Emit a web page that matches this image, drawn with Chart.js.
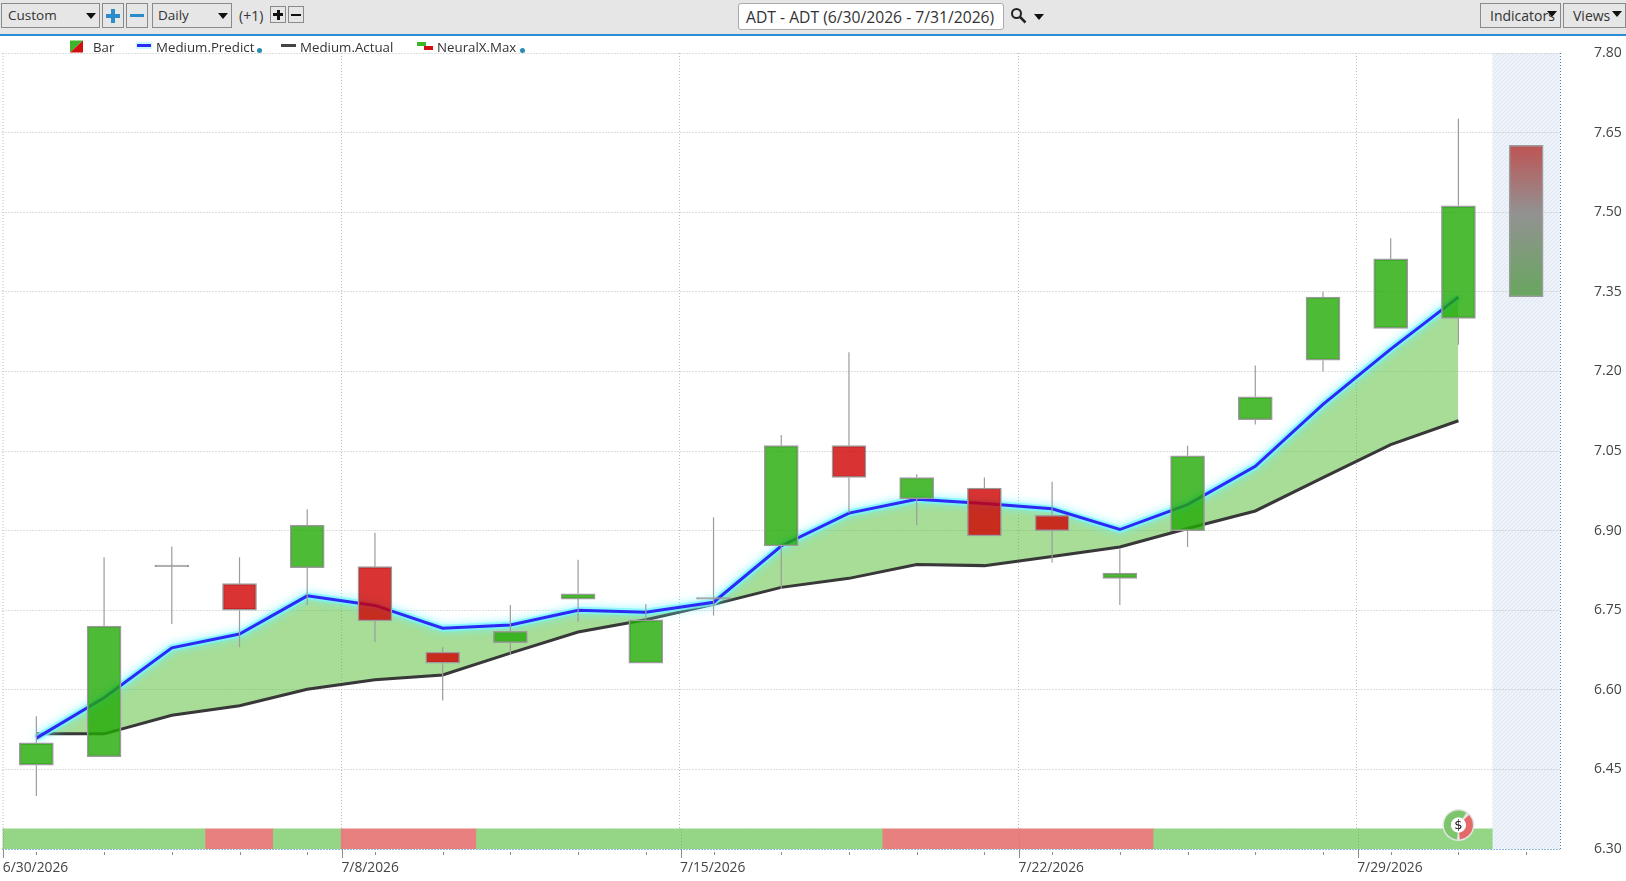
<!DOCTYPE html>
<html>
<head>
<meta charset="utf-8">
<title>ADT</title>
<script src="https://cdn.jsdelivr.net/npm/chart.js@4"></script>
<style>
  html, body { margin: 0; padding: 0; background: #fff; }
  body { width: 1626px; height: 881px; position: relative; overflow: hidden;
         font-family: "Open Sans", "Noto Sans", sans-serif; color: #333; }
  #priceChart { position: absolute; left: 0; top: 0; }
  #toolbar { position: absolute; left: 0; top: 0; width: 1626px; height: 34px; background: #e6e6e6;
             border-bottom: 2px solid #2a8dd8; box-sizing: content-box; }
  .ctl { position: absolute; box-sizing: border-box; border: 1px solid #8a8a8a; height: 25px; top: 3px;
         font-size: 13.5px; line-height: 23px; padding-left: 7px; white-space: nowrap; }
  .arrow { position: absolute; width: 0; height: 0; border-left: 5px solid transparent;
           border-right: 5px solid transparent; border-top: 6px solid #111; }
  .txt { position: absolute; font-size: 14px; white-space: nowrap; }
  #legend .txt { top: 37px; line-height: 20px; font-size: 13.3px; }
  .dot { position: absolute; width: 5px; height: 5px; border-radius: 50%; background: #2a8cb4; top: 48px; }
  .sw { position: absolute; }
</style>
</head>
<body>
<canvas id="priceChart" width="1626" height="881"></canvas>

<div id="toolbar">
  <div class="ctl" style="left:1px;width:99px;padding-left:6px">Custom</div><div class="arrow" style="left:86px;top:13px"></div>
  <div class="ctl" style="left:102px;width:22px;padding:0"></div>
  <div class="sw" style="left:106px;top:14px;width:14px;height:4px;background:#2a8cc8"></div>
  <div class="sw" style="left:111px;top:9px;width:4px;height:14px;background:#2a8cc8"></div>
  <div class="ctl" style="left:126px;width:22px;padding:0"></div>
  <div class="sw" style="left:130px;top:14px;width:14px;height:3px;background:#2a8cc8"></div>
  <div class="ctl" style="left:152px;width:80px;padding-left:5px">Daily</div><div class="arrow" style="left:218px;top:13px"></div>
  <div class="txt" style="left:239px;top:6px">(+1)</div>
  <div class="ctl" style="left:270px;top:6px;width:16px;height:17px;padding:0"></div>
  <div class="sw" style="left:273px;top:13px;width:10px;height:3px;background:#111"></div>
  <div class="sw" style="left:276.5px;top:9.5px;width:3px;height:10px;background:#111"></div>
  <div class="ctl" style="left:288px;top:6px;width:16px;height:17px;padding:0"></div>
  <div class="sw" style="left:291px;top:14px;width:10px;height:2px;background:#111"></div>

  <div class="ctl" style="left:738px;width:266px;height:27px;background:#fff;border-color:#aaa;border-radius:3px;font-size:15.7px;line-height:27px">ADT - ADT (6/30/2026 - 7/31/2026)</div>
  <svg class="sw" style="left:1010px;top:7px" width="17" height="17" viewBox="0 0 17 17">
    <circle cx="6.5" cy="6.5" r="4.5" fill="none" stroke="#222" stroke-width="2"/>
    <line x1="10" y1="10" x2="15.5" y2="15.5" stroke="#222" stroke-width="2.5"/>
  </svg>
  <div class="arrow" style="left:1034px;top:14px"></div>

  <div class="ctl" style="left:1480px;width:81px;padding-left:9px;font-size:14px">Indicators</div><div class="arrow" style="left:1547px;top:11px"></div>
  <div class="ctl" style="left:1563px;width:63px;padding-left:9px;font-size:14px">Views</div><div class="arrow" style="left:1612px;top:11px"></div>
</div>

<div id="legend">
  <svg class="sw" style="left:70px;top:40px" width="13" height="13" viewBox="0 0 14 13">
    <polygon points="0,0 14,0 0,13" fill="#3cb52a"/><polygon points="14,0 14,13 0,13" fill="#d01010"/>
  </svg>
  <div class="txt" style="left:93px">Bar</div>
  <div class="sw" style="left:136px;top:42px;width:16px;height:7px;background:#c8f8ff"></div>
  <div class="sw" style="left:137px;top:44px;width:14px;height:3px;background:#2a2af0"></div>
  <div class="txt" style="left:156px">Medium.Predict</div><div class="dot" style="left:257px"></div>
  <div class="sw" style="left:281px;top:44px;width:15px;height:3px;background:#444"></div>
  <div class="txt" style="left:300px">Medium.Actual</div>
  <div class="sw" style="left:417px;top:42px;width:9px;height:4px;background:#3cb52a"></div>
  <div class="sw" style="left:424px;top:46px;width:9px;height:4px;background:#d01010"></div>
  <div class="txt" style="left:437px">NeuralX.Max</div><div class="dot" style="left:520px"></div>
</div>

<script>
// ─── Data ─────────────────────────────────────────────────────────────────────
const dates = ['6/30/2026', '7/1/2026', '7/2/2026', '7/6/2026', '7/7/2026', '7/8/2026', '7/9/2026', '7/10/2026',
    '7/13/2026', '7/14/2026', '7/15/2026', '7/16/2026', '7/17/2026', '7/20/2026', '7/21/2026', '7/22/2026',
    '7/23/2026', '7/24/2026', '7/27/2026', '7/28/2026', '7/29/2026', '7/30/2026', '7/31/2026'];

const opens  = [6.458, 6.474, 6.832, 6.80, 6.83, 6.832, 6.671, 6.689, 6.771, 6.65, 6.771, 6.871, 7.06, 6.96, 6.98, 6.929, 6.81, 6.90, 7.109, 7.221, 7.281, 7.30];
const closes = [6.50, 6.72, 6.832, 6.75, 6.91, 6.73, 6.65, 6.71, 6.781, 6.732, 6.771, 7.06, 7.00, 7.00, 6.89, 6.90, 6.82, 7.041, 7.152, 7.34, 7.412, 7.512];
const highs  = [6.55, 6.85, 6.87, 6.85, 6.94, 6.896, 6.68, 6.76, 6.845, 6.761, 6.925, 7.08, 7.236, 7.006, 7.00, 6.992, 6.865, 7.06, 7.211, 7.35, 7.451, 7.676];
const lows   = [6.40, 6.474, 6.724, 6.68, 6.76, 6.69, 6.58, 6.666, 6.728, 6.65, 6.74, 6.79, 6.933, 6.91, 6.89, 6.84, 6.76, 6.869, 7.10, 7.20, 7.281, 7.25];

const mediumPredict = [6.509, 6.585, 6.679, 6.705, 6.777, 6.759, 6.716, 6.722, 6.75, 6.746, 6.765, 6.871, 6.933, 6.959, 6.951, 6.941, 6.902, 6.949, 7.021, 7.138, 7.242, 7.34];
const mediumActual  = [6.517, 6.517, 6.552, 6.57, 6.601, 6.619, 6.628, 6.669, 6.709, 6.732, 6.761, 6.793, 6.81, 6.836, 6.834, 6.851, 6.869, 6.904, 6.937, 7.00, 7.062, 7.107];

// 1 = green, -1 = red, one per trading day (last day has no signal yet)
const neuralSignal = [1, 1, 1, -1, 1, -1, -1, 1, 1, 1, 1, 1, 1, -1, -1, -1, -1, 1, 1, 1, 1, 1, null];
const forecastRange = [7.341, 7.626];

const yTicks = [6.30, 6.45, 6.60, 6.75, 6.90, 7.05, 7.20, 7.35, 7.50, 7.65, 7.80];
const STRIP_TOP = 6.338;

// ─── Colours ──────────────────────────────────────────────────────────────────
const GREEN = 'rgba(34, 170, 5, 0.8)';
const RED = 'rgba(207, 0, 0, 0.8)';
const GREY = '#9c9c9c';

const rangeBars = (a, b) => a.map((v, i) => [v, b[i]]);

function candleColor(ctx) {
    const i = ctx.dataIndex;
    if (closes[i] > opens[i]) return GREEN;
    if (closes[i] < opens[i]) return RED;
    return GREY;
}

function forecastFill(ctx) {
    const { chart } = ctx;
    const y = chart.scales.y;
    if (!y) return GREY;
    const top = y.getPixelForValue(forecastRange[1]);
    const bottom = y.getPixelForValue(forecastRange[0]);
    // scales are not laid out yet on the first pass
    if (!Number.isFinite(top) || !Number.isFinite(bottom)) return GREY;
    const g = chart.ctx.createLinearGradient(0, top, 0, bottom);
    g.addColorStop(0, 'rgb(190, 84, 84)');
    g.addColorStop(0.45, 'rgb(146, 146, 146)');
    g.addColorStop(1, 'rgb(104, 166, 94)');
    return g;
}

function hatchPattern(ctx) {
    const c = document.createElement('canvas');
    c.width = c.height = 4;
    const p = c.getContext('2d');
    p.fillStyle = '#eef2f9';
    p.fillRect(0, 0, 4, 4);
    p.strokeStyle = '#dfe6f3';
    p.lineWidth = 1;
    p.beginPath();
    p.moveTo(-1, 5); p.lineTo(5, -1);
    p.moveTo(-1, 1); p.lineTo(1, -1);
    p.moveTo(3, 5); p.lineTo(5, 3);
    p.stroke();
    return ctx.createPattern(c, 'repeat');
}

// ─── Extras the library has no option for ─────────────────────────────────────
const chartFurniture = {
    id: 'chartFurniture',
    beforeDatasetsDraw(chart) {
        // hatched block for the forecast day, under the grid
        const { ctx, chartArea: a, scales: { x } } = chart;
        const band = x.getPixelForValue(1) - x.getPixelForValue(0);
        const left = x.getPixelForValue(22) - band / 2;
        ctx.save();
        ctx.globalCompositeOperation = 'destination-over';
        ctx.fillStyle = hatchPattern(ctx);
        ctx.fillRect(left, a.top, a.right - left, a.bottom - a.top);
        ctx.restore();
    },
    beforeDatasetDraw(chart, args) {
        if (chart.data.datasets[args.index].label !== 'Predict glow') return;
        chart.ctx.save();
        chart.ctx.shadowColor = 'rgb(110, 245, 255)';
        chart.ctx.shadowBlur = 8;
    },
    afterDatasetDraw(chart, args) {
        if (chart.data.datasets[args.index].label !== 'Predict glow') return;
        chart.ctx.restore();
    },
    afterDraw(chart) {
        const { ctx, chartArea: a, scales: { x, y } } = chart;
        ctx.save();

        // plot frame
        ctx.lineWidth = 1;
        ctx.setLineDash([1, 2]);
        ctx.strokeStyle = '#bbbbbb';
        ctx.beginPath(); ctx.moveTo(a.left + 0.5, a.top); ctx.lineTo(a.left + 0.5, a.bottom); ctx.stroke();
        ctx.strokeStyle = '#3f7fb0';
        ctx.beginPath(); ctx.moveTo(a.right + 0.5, a.top); ctx.lineTo(a.right + 0.5, a.bottom); ctx.stroke();
        ctx.strokeStyle = '#3d9be0';
        ctx.beginPath(); ctx.moveTo(a.left, a.bottom + 0.5); ctx.lineTo(a.right, a.bottom + 0.5); ctx.stroke();
        ctx.setLineDash([]);

        // tick marks: short at each day, long at the labelled weeks
        const band = x.getPixelForValue(1) - x.getPixelForValue(0);
        dates.forEach((d, i) => {
            const px = Math.round(x.getPixelForValue(i)) + 0.5;
            ctx.strokeStyle = '#8c8c8c';
            ctx.beginPath(); ctx.moveTo(px, a.bottom + 3); ctx.lineTo(px, a.bottom + 6); ctx.stroke();
            if (i % 5 === 0) {
                const ex = Math.round(px - band / 2) + 0.5;
                ctx.beginPath(); ctx.moveTo(ex, a.bottom); ctx.lineTo(ex, a.bottom + 9); ctx.stroke();
                // week line stays faintly visible across the signal strip
                ctx.strokeStyle = 'rgba(130, 130, 130, 0.5)';
                ctx.setLineDash([1, 2]);
                ctx.beginPath(); ctx.moveTo(ex, y.getPixelForValue(STRIP_TOP)); ctx.lineTo(ex, a.bottom); ctx.stroke();
                ctx.setLineDash([]);
            }
        });

        // $ badge on the last traded day
        const bx = x.getPixelForValue(21);
        const by = a.bottom - 24;
        ctx.beginPath(); ctx.arc(bx, by, 16, 0, Math.PI * 2); ctx.fillStyle = '#e4e4e4'; ctx.fill();
        ctx.lineWidth = 7;
        ctx.strokeStyle = '#7cc56c';
        ctx.beginPath(); ctx.arc(bx, by, 11, Math.PI * 0.53, Math.PI * 1.68); ctx.stroke();
        ctx.strokeStyle = '#e46a6a';
        ctx.beginPath(); ctx.arc(bx, by, 11, Math.PI * 1.76, Math.PI * 0.47); ctx.stroke();
        ctx.beginPath(); ctx.arc(bx, by, 7.5, 0, Math.PI * 2); ctx.fillStyle = '#fff'; ctx.fill();
        ctx.fillStyle = '#111';
        ctx.font = '13px "DejaVu Sans"';
        ctx.textAlign = 'center';
        ctx.textBaseline = 'middle';
        ctx.fillText('$', bx, by + 1);
        ctx.restore();
    }
};

// ─── Chart ────────────────────────────────────────────────────────────────────
// Wicks stop at the body so they don't show through the translucent candle.
const upperWicks = highs.map((h, i) => [Math.max(opens[i], closes[i]), h]);
const lowerWicks = lows.map((l, i) => [l, Math.min(opens[i], closes[i])]);
const wickStyle = { type: 'bar', grouped: false, order: 2, backgroundColor: GREY, borderWidth: 0, inflateAmount: 0, barThickness: 1.2 };

new Chart(document.getElementById('priceChart'), {
    data: {
        labels: dates,
        datasets: [
            {
                type: 'bar', label: 'Bar', data: rangeBars(opens, closes), order: 1, grouped: false,
                backgroundColor: candleColor, borderColor: GREY, borderWidth: 1.5, borderSkipped: false,
                barThickness: 34, minBarLength: 1.5
            },
            { ...wickStyle, label: 'Upper wick', data: upperWicks },
            { ...wickStyle, label: 'Lower wick', data: lowerWicks },
            {
                type: 'bar', label: 'Forecast', data: dates.map((d, i) => (i === 22 ? forecastRange : null)), order: 1, grouped: false,
                backgroundColor: forecastFill, borderColor: GREY, borderWidth: 1.5, borderSkipped: false, barThickness: 34
            },
            {
                type: 'line', label: 'Predict glow', data: mediumPredict, order: 3.5,
                borderColor: 'rgba(120, 245, 255, 0.75)', borderWidth: 7, pointRadius: 0, tension: 0, fill: false
            },
            {
                type: 'line', label: 'Medium.Predict', data: mediumPredict, order: 3,
                borderColor: '#2b2bf5', borderWidth: 3, pointRadius: 0, tension: 0, fill: false
            },
            {
                // band is filled from here so the fill stays under both lines
                type: 'line', label: 'Medium.Actual', data: mediumActual, order: 4,
                borderColor: '#383838', borderWidth: 3, pointRadius: 0, tension: 0,
                fill: { target: 5, below: 'rgba(79, 187, 47, 0.5)', above: 'rgba(0, 0, 0, 0)' }
            },
            {
                type: 'bar', label: 'NeuralX.Max', data: neuralSignal.map(v => (v === null ? null : [yTicks[0], STRIP_TOP])), order: 5, grouped: false,
                backgroundColor: neuralSignal.map(v => (v === -1 ? '#e98080' : '#94d685')),
                borderWidth: 0, categoryPercentage: 1, barPercentage: 1
            }
        ]
    },
    options: {
        responsive: false,
        animation: false,
        layout: { padding: { top: 53, left: 2.5 } },
        plugins: { legend: { display: false }, tooltip: { enabled: false } },
        scales: {
            x: {
                type: 'category',
                offset: true,
                border: { display: false, dash: [1, 2] },
                grid: {
                    offset: true,
                    drawTicks: false,
                    color: c => (c.index % 5 === 0 && c.index > 0 && c.index < 23 ? '#bdbdbd' : 'rgba(0, 0, 0, 0)')
                },
                ticks: {
                    autoSkip: false, maxRotation: 0, align: 'start', padding: 11, labelOffset: -33.5,
                    color: '#444', font: { family: '"Open Sans"', size: 13.8 },
                    callback(v, i) { return i % 5 === 0 ? dates[i] : ''; }
                },
                afterFit(s) { s.height = 32; }
            },
            y: {
                position: 'right',
                min: yTicks[0],
                max: yTicks[yTicks.length - 1],
                border: { display: false, dash: [1, 2] },
                grid: { color: '#bdbdbd', drawTicks: false },
                afterBuildTicks(s) { s.ticks = yTicks.map(v => ({ value: v })); },
                ticks: {
                    padding: 34, color: '#444', font: { family: '"Open Sans"', size: 14 },
                    callback: v => v.toFixed(2)
                },
                afterFit(s) { s.width = 66; s.paddingTop = 0; s.paddingBottom = 0; }
            }
        }
    },
    plugins: [chartFurniture]
});
</script>
</body>
</html>
